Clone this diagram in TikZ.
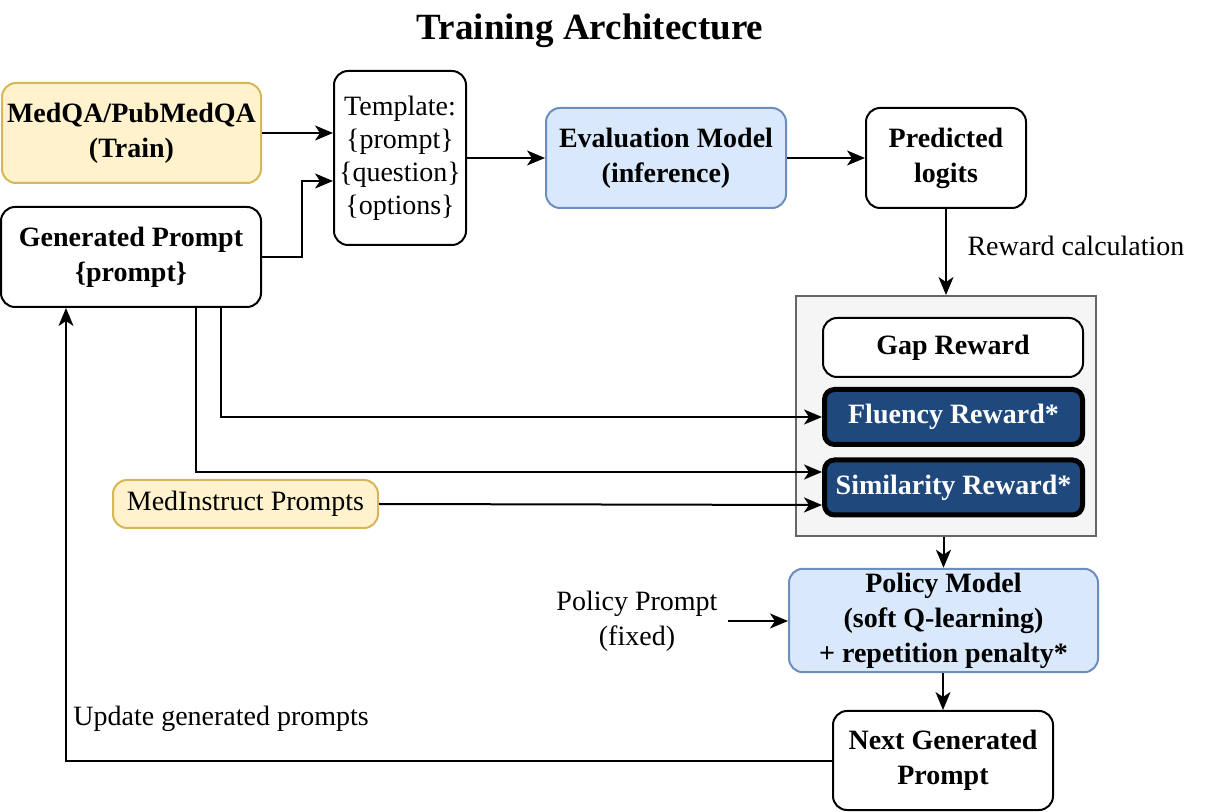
\documentclass[tikz,border=0pt]{standalone}
\usepackage{fontspec}
\setmainfont{Liberation Serif}
\usetikzlibrary{arrows.meta,calc}
\definecolor{yfill}{HTML}{FFF2CC}
\definecolor{ydraw}{HTML}{D6B656}
\definecolor{bfill}{HTML}{DAE8FC}
\definecolor{bdraw}{HTML}{6C8EBF}
\definecolor{gfill}{HTML}{F5F5F5}
\definecolor{gdraw}{HTML}{666666}
\definecolor{navy}{HTML}{1F497D}
\tikzset{
  base/.style={rounded corners=7pt, align=center, inner sep=2pt, line width=1pt,
    font=\fontsize{14}{17.5}\selectfont},
  whitebox/.style={base, draw=black, fill=white},
  yellowbox/.style={base, draw=ydraw, fill=yfill},
  bluebox/.style={base, draw=bdraw, fill=bfill},
  navybox/.style={base, draw=black, line width=2.5pt, fill=navy, text=white, rounded corners=5pt},
  container/.style={draw=gdraw, fill=gfill, line width=1pt},
  arr/.style={-{Stealth[length=9pt,width=7.5pt,inset=2.5pt]}, line width=1pt},
  lbl/.style={font=\fontsize{14}{17.5}\selectfont, align=center, inner sep=0pt},
  bf/.style={font=\fontsize{14}{17.5}\selectfont\bfseries}
}
\begin{document}
\begin{tikzpicture}[x=0.5pt,y=-0.5pt]
\useasboundingbox (0,0) rectangle (1206,812);
\node[font=\fontsize{18.5}{22}\selectfont\bfseries] (title) at (590,31) {Training Architecture};

\node[yellowbox, bf, minimum width=129.5pt, minimum height=50pt] (mq) at (131.5,133) {MedQA/PubMedQA\\(Train)};
\node[whitebox, bf, minimum width=130pt, minimum height=50pt] (gp) at (131,257) {Generated Prompt\\\{prompt\}};
\node[whitebox, minimum width=66pt, minimum height=87pt, font=\fontsize{14}{16.5}\selectfont] (tp) at (400,158) {Template:\\\{prompt\}\\\{question\}\\\{options\}};
\node[bluebox, bf, minimum width=120pt, minimum height=50pt] (ev) at (666,158) {Evaluation Model\\(inference)};
\node[whitebox, bf, minimum width=80pt, minimum height=50pt] (pl) at (946,158) {Predicted\\logits};

\node[container, minimum width=150pt, minimum height=120pt] (rc) at (946,416) {};
\node[whitebox, bf, minimum width=130pt, minimum height=29.5pt] (gap) at (953,347.5) {Gap Reward};
\node[navybox, bf, minimum width=129pt, minimum height=27.5pt] (fl) at (953.5,417) {Fluency Reward*};
\node[navybox, bf, minimum width=129pt, minimum height=27.5pt] (sim) at (953.5,487.5) {Similarity Reward*};

\node[yellowbox, minimum width=132.5pt, minimum height=24pt] (mi) at (245.5,504) {MedInstruct Prompts};
\node[bluebox, bf, minimum width=154.5pt, minimum height=49.5pt] (po) at (943.5,620.5) {Policy Model\\(soft Q-learning)\\+ repetition penalty*};
\node[lbl] (pp) at (637,621) {Policy Prompt\\(fixed)};
\node[whitebox, bf, minimum width=110pt, minimum height=49.5pt] (nx) at (943,760.5) {Next Generated\\Prompt};

\node[lbl] (rl) at (1076,246) {Reward calculation};
\node[lbl, anchor=west] (ul) at (73,719) {Update generated prompts};

\draw[arr] (mq.east) -- (mq.east -| tp.west);
\draw[arr] (gp.east) -- ++(20pt,0) |- ([yshift=-11.5pt]tp.west);
\draw[arr] (tp.east) -- (ev.west);
\draw[arr] (ev.east) -- (pl.west);
\draw[arr] (pl.south) -- (rc.north -| pl.south);
\draw[arr] ([xshift=45pt]gp.south) |- (fl.west);
\draw[arr] ([xshift=32.5pt]gp.south) |- ([yshift=7.75pt]sim.west);
\draw[arr] (mi.east) -- ([yshift=-8.75pt]sim.west);
\draw[arr] (rc.south -| po.north) -- (po.north);
\draw[arr] ([xshift=5pt]pp.east) -- (pp.east -| po.west);
\draw[arr] (po.south -| nx.north) -- (nx.north);
\draw[arr] (nx.west) -| ([xshift=-32.5pt]gp.south);
\end{tikzpicture}
\end{document}
